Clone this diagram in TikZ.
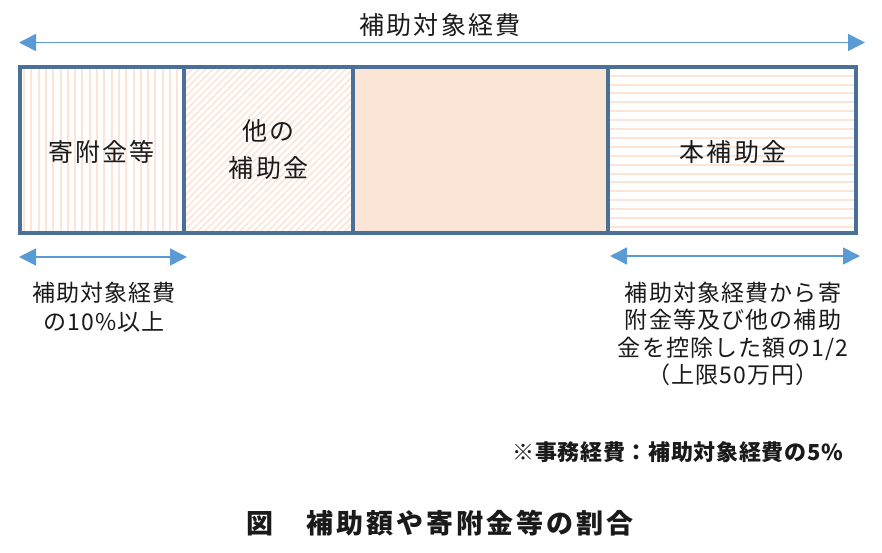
\documentclass[tikz,border=0pt]{standalone}
\usepackage{fontspec}
\usetikzlibrary{arrows.meta}
\setmainfont{Noto Sans CJK JP}
\newfontfamily\cjkbox[LetterSpace=9]{Noto Sans CJK JP}
\newfontfamily\cjksm[LetterSpace=5]{Noto Sans CJK JP}
\newfontfamily\cjknote[LetterSpace=3]{Noto Sans CJK JP}
\newfontfamily\cjkcap[LetterSpace=11]{Noto Sans CJK JP}
\definecolor{bordercol}{HTML}{4A7098}
\definecolor{arrowcol}{HTML}{5B9BD5}
\definecolor{peach}{HTML}{FBE5D6}
\definecolor{inkcol}{HTML}{1A1A1A}
\begin{document}
\begin{tikzpicture}[x=1pt,y=-1pt,
  dimarrow/.style={draw=arrowcol, line width=1.6pt,
     {Triangle[length=17pt,width=17pt]}-{Triangle[length=17pt,width=17pt]}},
  stripe/.style={draw=peach, line width=2pt},
  dstripe/.style={draw=peach, line width=1.6pt},
  boxlabel/.style={text=inkcol, font=\cjkbox\fontsize{25}{37}\selectfont, align=center, inner sep=0pt},
  smlabel/.style={text=inkcol, font=\cjksm\fontsize{23}{28}\selectfont, align=center, inner sep=0pt},
  frame/.style={draw=bordercol, line width=4pt}
]
\useasboundingbox (0,0) rectangle (882,553);
\fill[white] (0,0) rectangle (882,553);

% section 1: vertical stripes
\begin{scope}
\clip (19.5,67.5) rectangle (184,232.5);
\foreach \i in {0,...,22} {
  \draw[stripe] ({24+7.3*\i},60) -- ({24+7.3*\i},240);
}
\end{scope}
% section 2: diagonal stripes
\begin{scope}
\clip (184,67.5) rectangle (353,232.5);
\foreach \i in {0,...,50} {
  \draw[dstripe] ({184-170+7*\i},240) -- ({184-170+7*\i+180},60);
}
\end{scope}
% section 3: solid
\fill[peach] (353,67.5) rectangle (608,232.5);
% section 4: horizontal stripes
\begin{scope}
\clip (608,67.5) rectangle (856,232.5);
\foreach \i in {0,...,18} {
  \draw[stripe] (600,{75.7+8.9*\i}) -- (870,{75.7+8.9*\i});
}
\end{scope}

% frame and dividers
\draw[frame] (19.5,67.5) rectangle (856,232.5);
\draw[frame] (184,67.5) -- (184,232.5);
\draw[frame] (353,67.5) -- (353,232.5);
\draw[frame] (608,67.5) -- (608,232.5);

% box labels
\node[boxlabel] (kifu) at (101.5,152) {寄附金等};
\node[boxlabel] (other) at (268.5,150) {他の\\補助金};
\node[boxlabel] (hon) at (733,152) {本補助金};

% top dimension
\coordinate (tl) at (19,42.5);
\coordinate (tr) at (865,42.5);
\draw[dimarrow] (tl) -- (tr);
\node[boxlabel] (title) at (440,25) {補助対象経費};

% bottom left dimension
\coordinate (bl1) at (19,257);
\coordinate (bl2) at (187,257);
\draw[dimarrow] (bl1) -- (bl2);
\node[smlabel, font=\cjksm\fontsize{23}{29}\selectfont] (lefttxt) at (104,307) {補助対象経費\\の10\%以上};

% bottom right dimension
\coordinate (br1) at (610,256);
\coordinate (br2) at (860,256);
\draw[dimarrow] (br1) -- (br2);
\node[smlabel, font=\cjksm\fontsize{23}{27.3}\selectfont] (righttxt) at (733,334) {補助対象経費から寄\\附金等及び他の補助\\金を控除した額の1/2\\（上限50万円）};

% note
\node[text=inkcol, font=\cjknote\bfseries\fontsize{22}{26}\selectfont, anchor=east, inner sep=0pt] (note) at (843,452) {※事務経費：補助対象経費の5\%};

% caption
\node[text=inkcol, font=\cjkcap\bfseries\fontsize{27}{32}\selectfont, inner sep=0pt] (cap) at (440,523) {図　補助額や寄附金等の割合};
\end{tikzpicture}
\end{document}
